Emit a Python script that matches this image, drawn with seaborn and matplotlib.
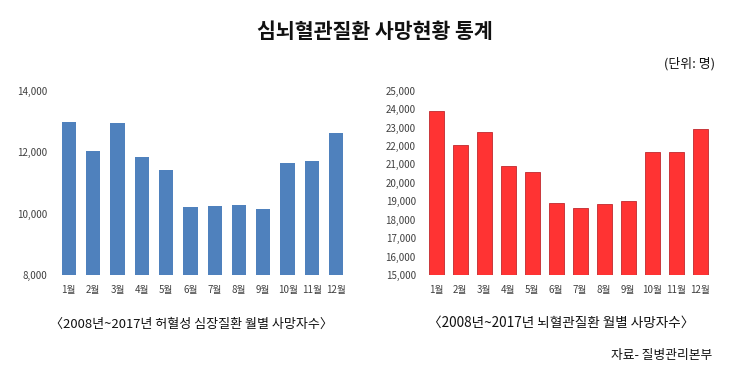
import pandas as pd
import matplotlib
matplotlib.use("Agg")
import matplotlib.pyplot as plt
import seaborn as sns

# --- Datos ---
meses = ['1월', '2월', '3월', '4월', '5월', '6월', '7월', '8월', '9월', '10월', '11월', '12월']
허혈성_심장질환 = [12970, 12030, 12940, 11830, 11420, 10210, 10240, 10280, 10160, 11650, 11720, 12630]
뇌혈관질환 = [23920, 22070, 22740, 20910, 20570, 18910, 18620, 18870, 19020, 21660, 21660, 22920]

ticks_izq = [8000, 10000, 12000, 14000]
ticks_der = list(range(15000, 25001, 1000))

sns.set_theme(style="white")
plt.rcParams['font.family'] = ['Noto Sans CJK KR', 'DejaVu Sans']

df_izq = pd.DataFrame({'mes': meses, 'valor': 허혈성_심장질환})
df_der = pd.DataFrame({'mes': meses, 'valor': 뇌혈관질환})

fig = plt.figure(figsize=(7.4, 3.74), dpi=100)
ax1 = fig.add_axes([0.0766, 0.2647, 0.3942, 0.4928])
ax2 = fig.add_axes([0.5732, 0.2647, 0.3892, 0.4928])

sns.barplot(data=df_izq, x='mes', y='valor', color='#4F81BD', saturation=1,
            width=0.59, ax=ax1, linewidth=0)
sns.barplot(data=df_der, x='mes', y='valor', color='#FF3333', saturation=1,
            width=0.63, ax=ax2, edgecolor='#C0282D', linewidth=0.6)

for ax, ticks, pad in [(ax1, ticks_izq, 7), (ax2, ticks_der, 6)]:
    ax.set_ylim(ticks[0], ticks[-1])
    ax.set_xlim(-0.5, 11.5)
    ax.set_yticks(ticks)
    ax.set_yticklabels([f'{t:,}' for t in ticks])
    ax.set_xlabel('')
    ax.set_ylabel('')
    for s in ax.spines.values():
        s.set_visible(False)
    ax.tick_params(axis='y', length=0, pad=pad, labelsize=7, labelcolor='#404040')
    ax.tick_params(axis='x', length=0, pad=7, labelsize=7, labelcolor='#404040')
    ax.grid(False)

# --- Textos ---
fig.text(0.507, 1 - 32 / 374, '심뇌혈관질환 사망현황 통계', ha='center', va='center',
         fontsize=14.8, fontweight='bold', color='#111111')
fig.text(715 / 740, 1 - 64 / 374, '(단위: 명)', ha='right', va='center',
         fontsize=9.3, color='#111111')
fig.text(191 / 740, 1 - 324 / 374, '〈2008년~2017년 허혈성 심장질환 월별 사망자수〉',
         ha='center', va='center', fontsize=9.4, color='#111111')
fig.text(561 / 740, 1 - 323 / 374, '〈2008년~2017년 뇌혈관질환 월별 사망자수〉',
         ha='center', va='center', fontsize=9.8, color='#111111')
fig.text(712 / 740, 1 - 355 / 374, '자료- 질병관리본부', ha='right', va='center',
         fontsize=9.2, color='#111111')

fig.savefig('out.png', dpi=100)
